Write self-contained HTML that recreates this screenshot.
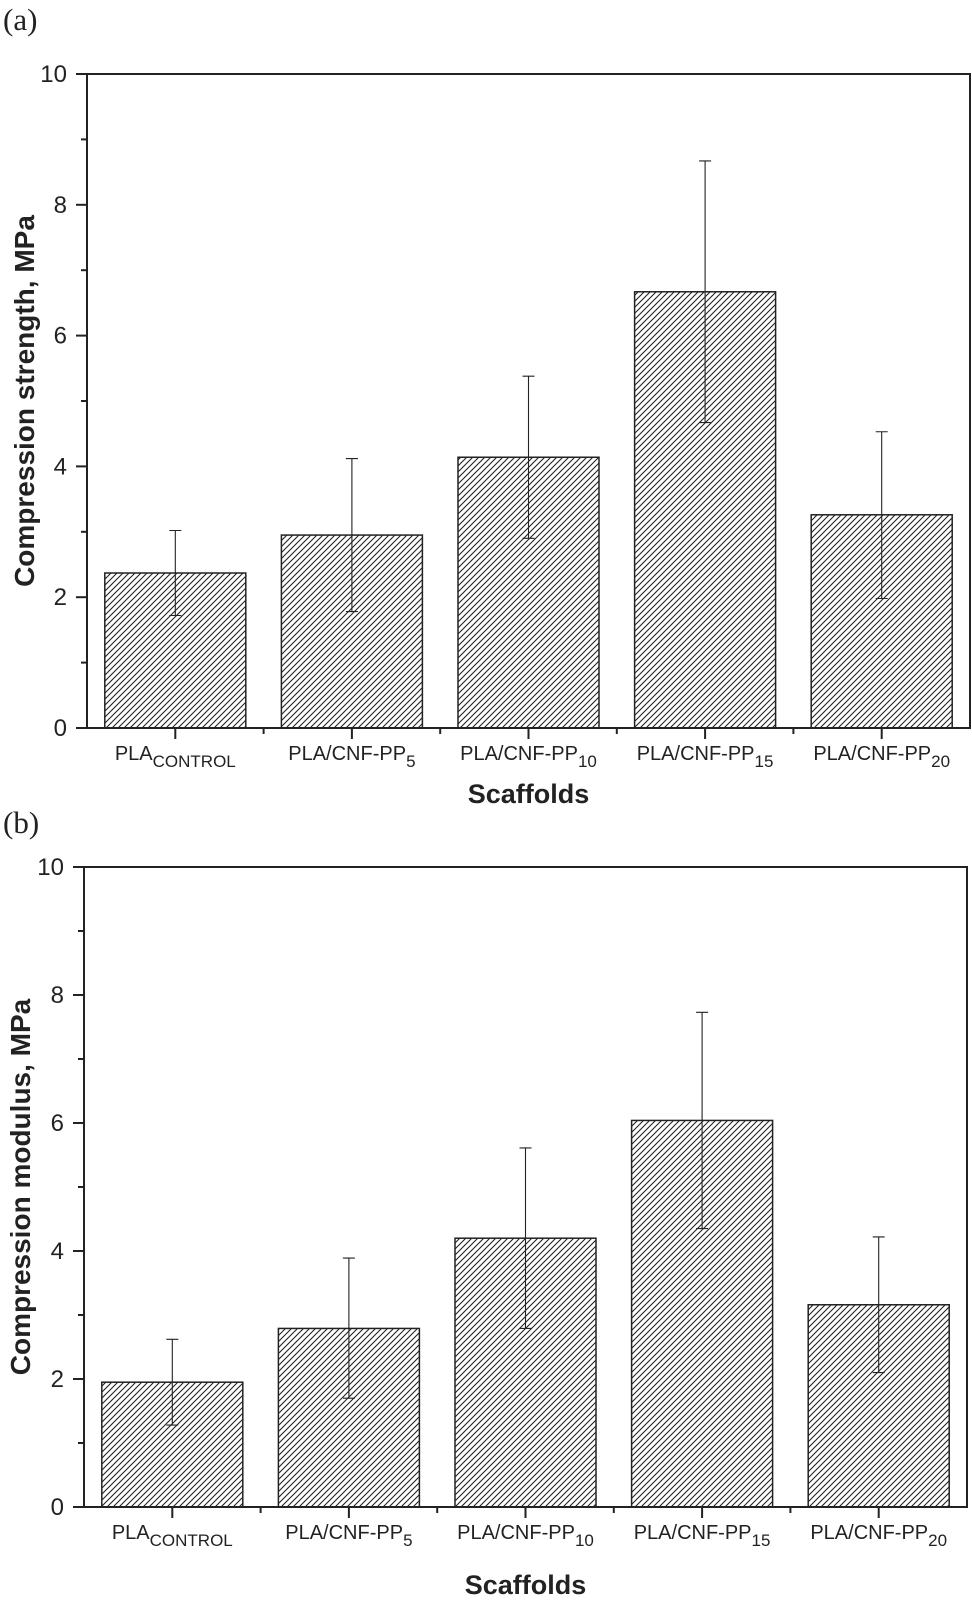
<!DOCTYPE html>
<html><head><meta charset="utf-8">
<style>
html,body{margin:0;padding:0;background:#fff;}
svg{display:block;font-family:"Liberation Sans",Arial,sans-serif;}
</style></head>
<body>
<svg id="chart" width="972" height="1606" viewBox="0 0 972 1606" xmlns="http://www.w3.org/2000/svg">
<defs>
<pattern id="hatch" patternUnits="userSpaceOnUse" width="6" height="6">
<path d="M-1,7 L7,-1 M-4,4 L4,-4 M2,10 L10,2" stroke="#222" stroke-width="1.1"/>
</pattern>
</defs>
</svg>
<script>
const categories = ["CONTROL","5","10","15","20"];
const strengthVals = [2.37, 2.95, 4.14, 6.67, 3.26];
const strengthHi = [3.02, 4.12, 5.38, 8.67, 4.53];
const strengthLo = [1.72, 1.78, 2.90, 4.67, 1.98];
const modulusVals = [1.95, 2.79, 4.20, 6.04, 3.16];
const modulusHi = [2.62, 3.89, 5.61, 7.73, 4.22];
const modulusLo = [1.28, 1.70, 2.79, 4.35, 2.10];
const yTicks = [0, 2, 4, 6, 8, 10];

const NS = "http://www.w3.org/2000/svg";
const svg = document.getElementById('chart');
function mk(tag, attrs, parent){
  const e = document.createElementNS(NS, tag);
  for (const k in attrs) e.setAttribute(k, attrs[k]);
  (parent||svg).appendChild(e);
  return e;
}

function panel(cfg, vals, hi, lo){
  const g = mk('g', {});
  
  
  const L = cfg.left, R = cfg.right, T = cfg.top, B = cfg.bottom;
  const y = v => B - (v/10)*(B-T);
  const step = (R-L)/categories.length;
  const x = i => L + step*(i+0.5);
  const bw = 141;

  const pl = mk('text', {x:3, y:cfg.letterY, 'font-family':'"Liberation Serif",serif', 'font-size':31, fill:'#222'}, g);
  pl.textContent = cfg.letter;
  
  

  vals.forEach((v,i)=>{
    const r = mk('rect', {x:x(i)-bw/2, y:y(v), width:bw, height:B-y(v), fill:'url(#hatch)', stroke:'#222', 'stroke-width':1.5}, g);
    
    
    const eb = mk('path', {d:`M${x(i)},${y(hi[i])}V${y(lo[i])}M${x(i)-6},${y(hi[i])}H${x(i)+6}M${x(i)-6},${y(lo[i])}H${x(i)+6}`, stroke:'#222', 'stroke-width':1.1, fill:'none'}, g);
    
    
  });

  const fr = mk('rect', {x:L, y:T, width:R-L, height:B-T, fill:'none', stroke:'#222', 'stroke-width':2}, g);
  
  

  yTicks.forEach(t=>{
    mk('line', {x1:L-11, x2:L, y1:y(t), y2:y(t), stroke:'#222', 'stroke-width':2}, g);
    const tl = mk('text', {x:L-20, y:y(t)+8, 'text-anchor':'end', 'font-size':24, fill:'#222'}, g);
    tl.textContent = t;
    
    
    if (t < 10) mk('line', {x1:L-6, x2:L, y1:y(t+1), y2:y(t+1), stroke:'#222', 'stroke-width':2}, g);
  });

  categories.forEach((c,i)=>{
    mk('line', {x1:x(i), x2:x(i), y1:B, y2:B+11, stroke:'#222', 'stroke-width':2}, g);
    if (i>0) mk('line', {x1:L+step*i, x2:L+step*i, y1:B, y2:B+6, stroke:'#222', 'stroke-width':2}, g);
    const t = mk('text', {x:x(i), y:B+cfg.catDy, 'text-anchor':'middle', 'font-size':20, fill:'#222'}, g);
    
    
    const a = mk('tspan', {}, t);
    a.textContent = (c === 'CONTROL') ? 'PLA' : 'PLA/CNF-PP';
    const s = mk('tspan', {dy:7, 'font-size':17}, t);
    s.textContent = c;
  });

  const xt = mk('text', {x:(L+R)/2, y:cfg.xTitleY, 'text-anchor':'middle', 'font-size':27, 'font-weight':'bold', fill:'#222'}, g);
  xt.textContent = 'Scaffolds';
  
  

  const yc = (T+B)/2;
  const yt = mk('text', {x:cfg.yTitleX, y:yc, 'text-anchor':'middle', 'font-size':28, 'font-weight':'bold', fill:'#222', transform:`rotate(-90 ${cfg.yTitleX} ${yc})`}, g);
  yt.setAttribute('x', cfg.yTitleX);
  yt.setAttribute('y', yc);
  yt.textContent = cfg.yTitle;
  
  
}

panel({name:'panel-a-strength', letter:'(a)', letterY:30, left:87, right:970, top:74, bottom:728, catDy:32, xTitleY:803, yTitleX:34, yTitle:'Compression strength, MPa'}, strengthVals, strengthHi, strengthLo);
panel({name:'panel-b-modulus', letter:'(b)', letterY:833, left:84, right:967, top:867, bottom:1507, catDy:32, xTitleY:1594, yTitleX:30, yTitle:'Compression modulus, MPa'}, modulusVals, modulusHi, modulusLo);
</script>
</body></html>
